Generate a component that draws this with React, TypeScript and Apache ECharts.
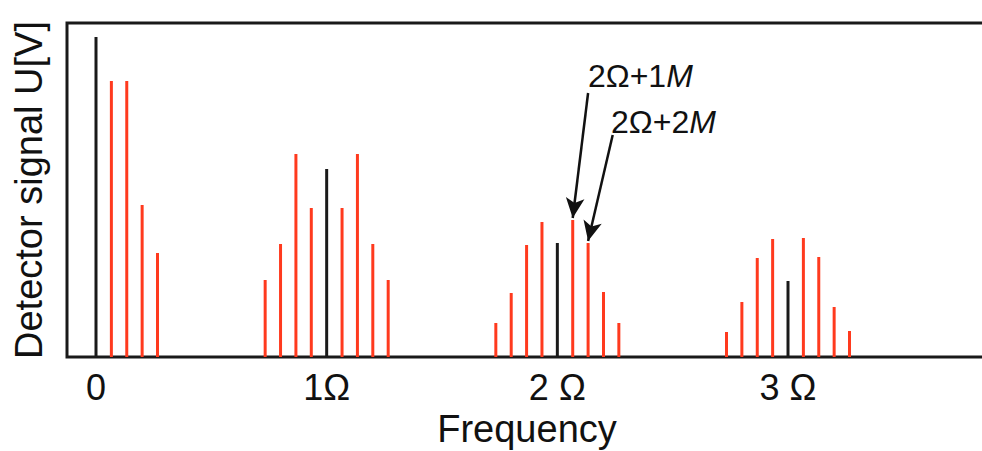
import React, { useEffect, useRef } from "react";
import * as echarts from "echarts";

// Frequencies in units of the modulation frequency M (Ω = 15 M)
const carrierFreq = [0, 15, 30, 45];
const carrierAmp = [320, 188, 114, 76];
const sidebandFreq = [
  1, 2, 3, 4,
  11, 12, 13, 14, 16, 17, 18, 19,
  26, 27, 28, 29, 31, 32, 33, 34,
  41, 42, 43, 44, 46, 47, 48, 49,
];
const sidebandAmp = [
  276, 276, 152, 104,
  77, 113, 203, 149, 149, 203, 113, 77,
  34, 64, 112, 135, 137, 114, 65, 34,
  25, 55, 99, 118, 119, 100, 50, 26,
];
const tickValues = [0, 15, 30, 45];
const tickLabels = ["0", "1Ω", "2 Ω", "3 Ω"];
const annotations = [
  { label: "2Ω+1", italic: "M", freq: 31, textX: 35.4, textY: 281, startX: 32.0, startY: 264 },
  { label: "2Ω+2", italic: "M", freq: 32, textX: 36.9, textY: 235, startX: 33.6, startY: 222 },
];

const FONT = "'Liberation Sans', Arial, Helvetica, sans-serif";

export default function App() {
  const ref = useRef<HTMLDivElement>(null);
  useEffect(() => {
    document.body.style.margin = "0";
    document.body.style.overflow = "hidden";
    if (!ref.current) return;
    const chart = echarts.init(ref.current, null, { renderer: "svg" });
    const ampOf = (f: number) => {
      const i = sidebandFreq.indexOf(f);
      return i >= 0 ? sidebandAmp[i] : carrierAmp[carrierFreq.indexOf(f)];
    };
    chart.setOption({
      animation: false,
      backgroundColor: "#fff",
      textStyle: { fontFamily: FONT },
      grid: {
        left: 67,
        top: 23,
        right: -5,
        bottom: 94,
        containLabel: false,
        outerBoundsMode: "none",
        show: true,
        borderColor: "#1a1a1a",
        borderWidth: 3,
        backgroundColor: "transparent",
      },
      xAxis: {
        type: "value",
        min: -1.886,
        max: 57.94,
        splitLine: { show: false },
        axisTick: { show: false },
        axisLine: { show: false },
        axisLabel: {
          customValues: tickValues,
          formatter: (v: number) => tickLabels[tickValues.indexOf(Math.round(v))] ?? "",
          color: "#111",
          fontSize: 36,
          fontFamily: FONT,
          margin: 12,
        },
        name: "Frequency",
        nameLocation: "middle",
        nameGap: 47,
        nameTextStyle: { color: "#111", fontSize: 38, fontFamily: FONT },
      },
      yAxis: {
        type: "value",
        min: 0,
        max: 334,
        splitLine: { show: false },
        axisTick: { show: false },
        axisLine: { show: false },
        axisLabel: { show: false },
        name: "Detector signal U[V]",
        nameLocation: "middle",
        nameRotate: 90,
        nameGap: 19,
        nameTextStyle: { color: "#111", fontSize: 38, fontFamily: FONT },
      },
      series: [
        {
          type: "bar",
          name: "carrier",
          barWidth: 3,
          barGap: "-100%",
          itemStyle: { color: "#1a1a1a" },
          data: carrierFreq.map((f, i) => [f, carrierAmp[i]]),
        },
        {
          type: "bar",
          name: "sidebands",
          barWidth: 3,
          barGap: "-100%",
          itemStyle: { color: "#ff3a1e" },
          data: sidebandFreq.map((f, i) => [f, sidebandAmp[i]]),
          markLine: {
            silent: true,
            symbol: ["none", "arrow"],
            symbolSize: [14, 20],
            lineStyle: { color: "#111", width: 2.5, type: "solid" },
            label: { show: false },
            data: annotations.map((a) => [
              { coord: [a.startX, a.startY] },
              { coord: [a.freq, ampOf(a.freq) + 2] },
            ]),
          },
          markPoint: {
            silent: true,
            symbol: "circle",
            symbolSize: 0,
            data: annotations.map((a) => ({
              coord: [a.textX, a.textY],
              label: {
                show: true,
                position: "inside",
                formatter: `{n|${a.label}}{i|${a.italic}}`,
                rich: {
                  n: { fontSize: 32, color: "#111", fontFamily: FONT },
                  i: { fontSize: 32, color: "#111", fontFamily: FONT, fontStyle: "italic" },
                },
              },
            })),
          },
        },
      ],
    });
    return () => chart.dispose();
  }, []);
  return <div ref={ref} style={{ width: 982, height: 451 }} />;
}
